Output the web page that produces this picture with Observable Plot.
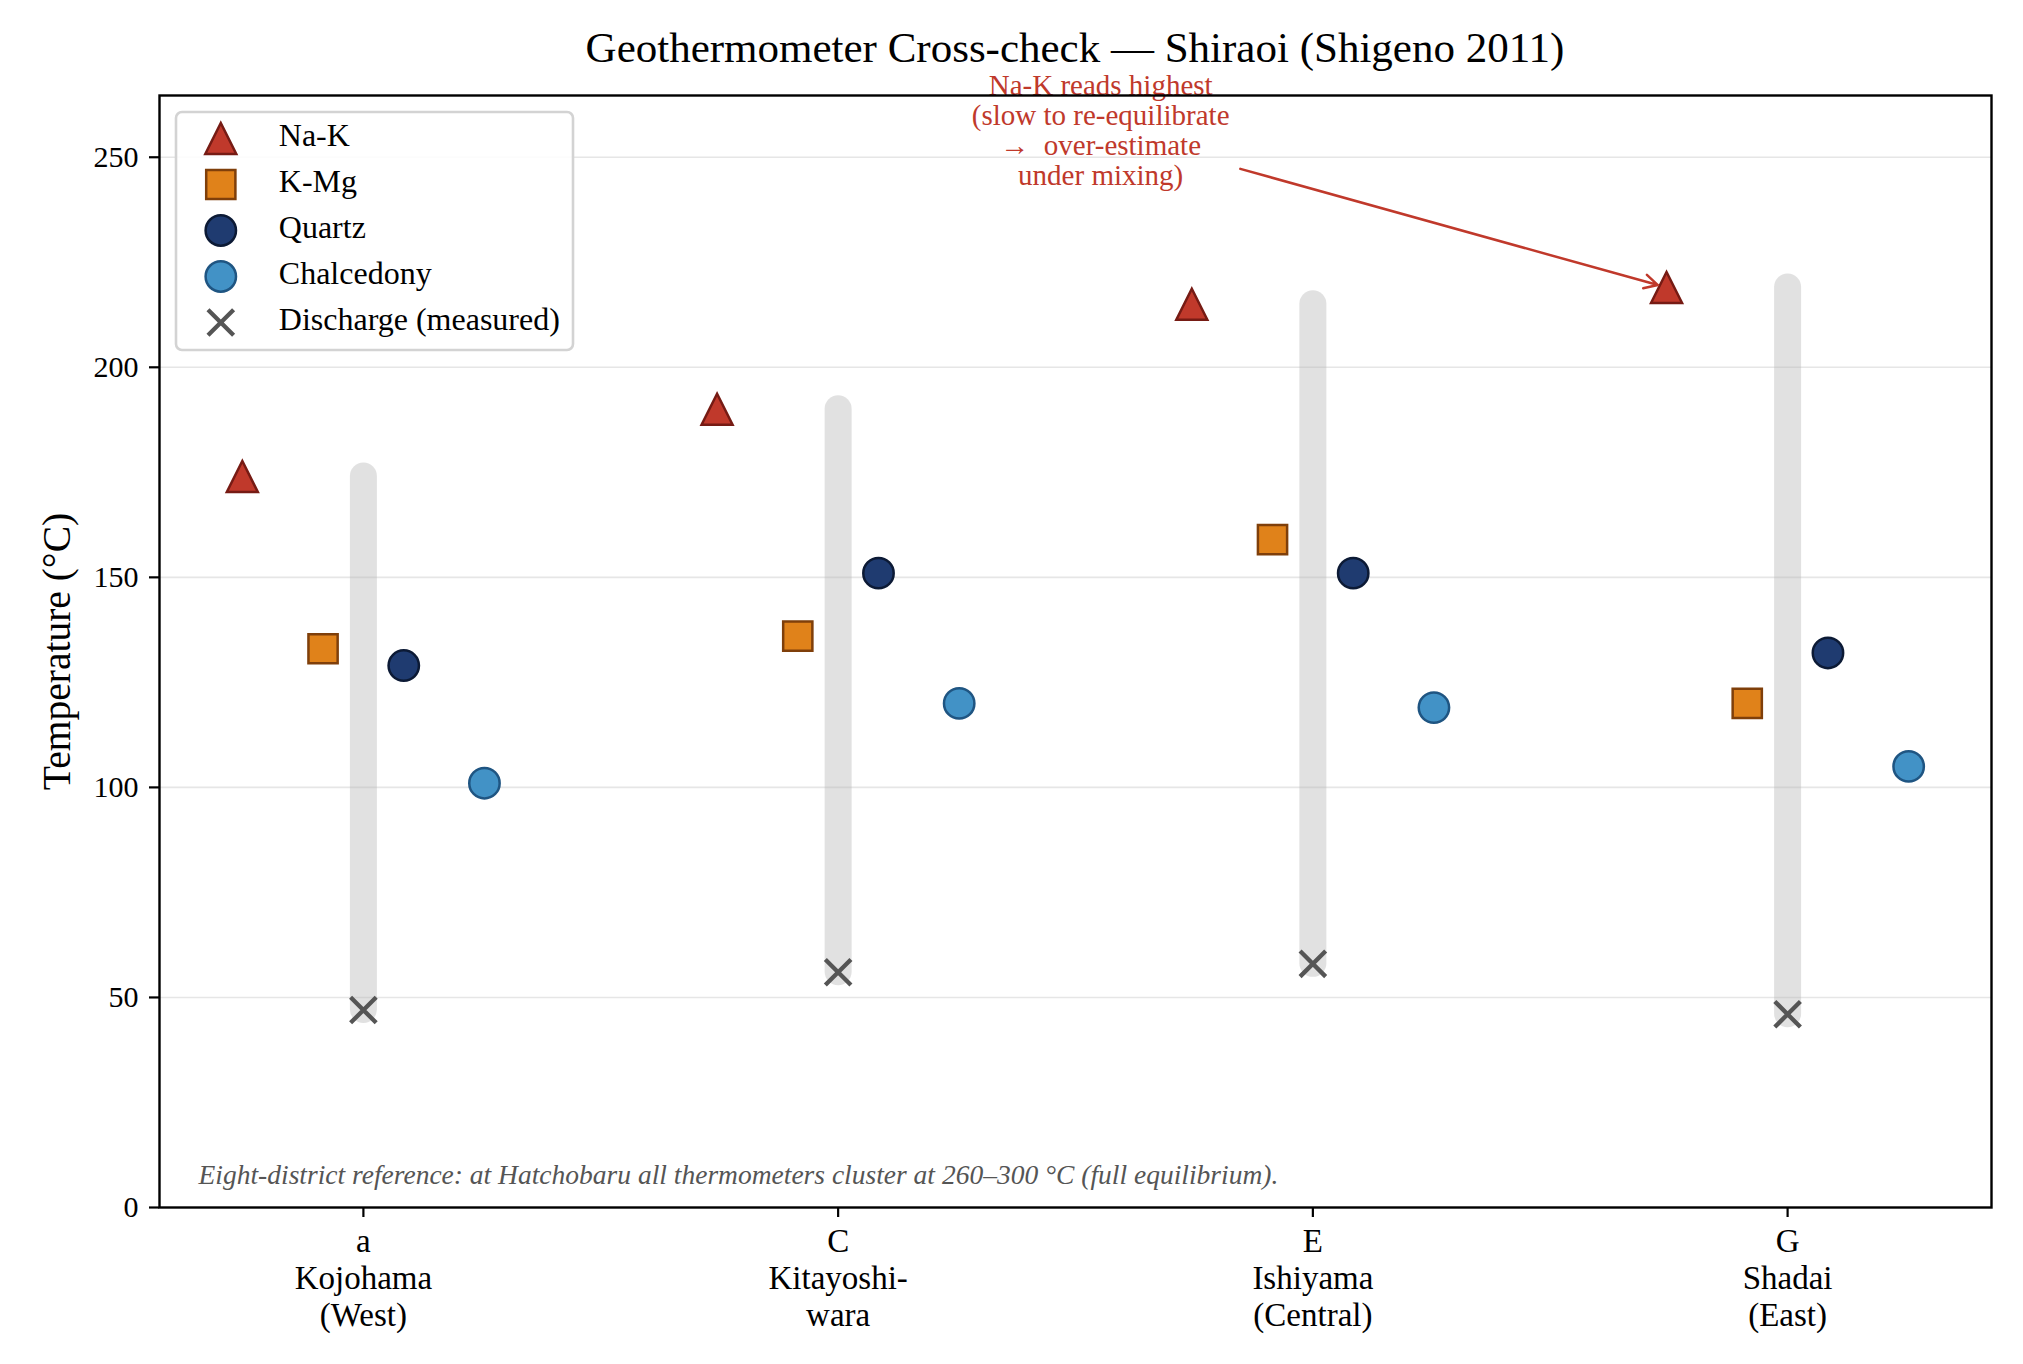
<!DOCTYPE html>
<html><head><meta charset="utf-8">
<script src="https://cdn.jsdelivr.net/npm/d3@7"></script>
<script src="https://cdn.jsdelivr.net/npm/@observablehq/plot@0.6"></script>
<style>
html,body{margin:0;padding:0;background:#fff;}
body{font-family:"Liberation Serif","Times New Roman",serif;width:2023px;}
#title{height:75px;box-sizing:border-box;padding-top:26px;margin-left:159px;width:1832px;text-align:center;font-size:43px;line-height:43px;color:#000;white-space:nowrap;}
#chart svg{overflow:visible;display:block;}
</style></head><body>
<div id="title"><span>Geothermometer Cross-check — Shiraoi (Shigeno 2011)</span></div>
<div id="chart"></div>
<script>
// ---- data ----
const districts = ["a\nKojohama\n(West)", "C\nKitayoshi-\nwara", "E\nIshiyama\n(Central)", "G\nShadai\n(East)"];
const naK        = [174, 190, 215, 219];
const kMg        = [133, 136, 159, 120];
const quartz     = [129, 151, 151, 132];
const chalcedony = [101, 120, 119, 105];
const discharge  = [47, 56, 58, 46];
const yTicks = [0, 50, 100, 150, 200, 250];
const seriesNames = ["Na-K", "K-Mg", "Quartz", "Chalcedony", "Discharge (measured)"];
const yLabel = "Temperature (°C)";
const annotationText = "Na-K reads highest\n(slow to re-equilibrate\n→  over-estimate\nunder mixing)";
const annotationAt = {x: 1.553, y: 256.5};
const footnote = "Eight-district reference: at Hatchobaru all thermometers cluster at 260–300 °C (full equilibrium).";

// ---- symbols (matplotlib-like) ----
const R = s => Math.sqrt(s / Math.PI);
const sym = {
  triangle: {draw(c, s) { const r = R(s); c.moveTo(0, -r); c.lineTo(r, r); c.lineTo(-r, r); c.closePath(); }},
  square:   {draw(c, s) { const r = R(s); c.rect(-r, -r, 2 * r, 2 * r); }},
  circle:   {draw(c, s) { const r = R(s); c.moveTo(r, 0); c.arc(0, 0, r, 0, 2 * Math.PI); c.closePath(); }},
  times:    {draw(c, s) { const r = R(s); c.moveTo(-r, -r); c.lineTo(r, r); c.moveTo(-r, r); c.lineTo(r, -r); }}
};

const styles = [
  {values: naK,        symbol: sym.triangle, r: 15.5, fill: "#c0392b", stroke: "#761b14", off: -0.255},
  {values: kMg,        symbol: sym.square,   r: 14.6, fill: "#e0821a", stroke: "#7f3f0a", off: -0.085},
  {values: quartz,     symbol: sym.circle,   r: 15.2, fill: "#1f3b70", stroke: "#0c1a35", off: 0.085},
  {values: chalcedony, symbol: sym.circle,   r: 15.2, fill: "#4292c6", stroke: "#1f5582", off: 0.255}
];
const dischargeStyle = {symbol: sym.times, r: 12.8, stroke: "#555555", strokeWidth: 4.3};

const idx = districts.map((_, i) => i);
const barRows = idx.map(i => ({x: i, lo: discharge[i], hi: naK[i]}));

const marks = [];
marks.push(Plot.gridY(yTicks.filter(d => d > 0), {stroke: "#e6e6e6", strokeOpacity: 1, strokeWidth: 1.6}));
marks.push(Plot.ruleX(barRows, {x: "x", y1: "lo", y2: "hi", stroke: "#b8b8b8", strokeOpacity: 0.42, strokeWidth: 27, strokeLinecap: "round"}));
for (const s of styles) {
  marks.push(Plot.dot(idx, {x: i => i + s.off, y: i => s.values[i], symbol: s.symbol, r: s.r,
    fill: s.fill, stroke: s.stroke, strokeWidth: 2.5, strokeLinejoin: "miter", fillOpacity: 1}));
}
marks.push(Plot.dot(idx, {x: i => i, y: i => discharge[i], symbol: dischargeStyle.symbol, r: dischargeStyle.r,
  fill: "none", stroke: dischargeStyle.stroke, strokeWidth: dischargeStyle.strokeWidth, strokeLinecap: "butt"}));

// legend (inside the frame, top-left)
marks.push(Plot.rect([0], {insetLeft: 17, insetTop: 17, insetRight: 1418, insetBottom: 857, rx: 6,
  fill: "white", fillOpacity: 0.85, stroke: "#d3d3d3", strokeWidth: 2.6}));
const legendStyles = [...styles, {symbol: sym.times, r: 12.8, fill: "none", stroke: "#555555", sw: 4.3}];
legendStyles.forEach((s, k) => {
  marks.push(Plot.dot([0], {frameAnchor: "top-left", dx: 61.3, dy: 43 + 46 * k, symbol: s.symbol, r: s.r,
    fill: s.fill, stroke: s.stroke, strokeWidth: s.sw || 2.5, strokeLinejoin: "miter"}));
  marks.push(Plot.text([seriesNames[k]], {frameAnchor: "top-left", dx: 119.3, dy: 40.5 + 46 * k, text: d => d,
    textAnchor: "start", lineAnchor: "middle", fontSize: 32, fill: "#000"}));
});

// annotation
marks.push(Plot.text([annotationText], {x: annotationAt.x, y: annotationAt.y, text: d => d, fontSize: 29, lineHeight: 30 / 29,
  fill: "#c0392b", textAnchor: "middle", lineAnchor: "middle"}));
marks.push(Plot.arrow([0], {x1: annotationAt.x, y1: annotationAt.y, x2: 3 + styles[0].off, y2: naK[3],
  insetStart: 145, insetEnd: 9, stroke: "#c0392b", strokeWidth: 2.5, headLength: 9, headAngle: 55}));

// footnote
marks.push(Plot.text([footnote], {frameAnchor: "bottom-left", dx: 39, dy: -24, lineAnchor: "bottom", text: d => d,
  textAnchor: "start", fontSize: 27.5, fontStyle: "italic", fill: "#555555"}));

// y label
marks.push(Plot.text([yLabel], {frameAnchor: "left", dx: -102, rotate: -90, text: d => d, fontSize: 39.5,
  textAnchor: "middle", lineAnchor: "middle", fill: "#000"}));

// axes
marks.push(Plot.axisY(yTicks, {tickSize: 10, tickPadding: 11, fontSize: 30, strokeWidth: 2.2, label: null, tickFormat: d => String(d)}));
marks.push(Plot.axisX(idx, {tickSize: 10, tickPadding: 8, fontSize: 33, lineHeight: 37 / 33, strokeWidth: 2.2, label: null,
  tickFormat: i => districts[i]}));
marks.push(Plot.frame({stroke: "#000", strokeWidth: 2.4}));

const chart = Plot.plot({
  width: 2023,
  height: 1289,
  marginLeft: 159,
  marginRight: 32,
  marginTop: 20,
  marginBottom: 157,
  style: {fontFamily: "'Liberation Serif','Times New Roman',serif", background: "white", color: "#000"},
  x: {type: "linear", domain: [-0.4295, 3.4295]},
  y: {type: "linear", domain: [0, 264.7]},
  marks
});
document.getElementById("chart").appendChild(chart);
</script>
</body></html>
